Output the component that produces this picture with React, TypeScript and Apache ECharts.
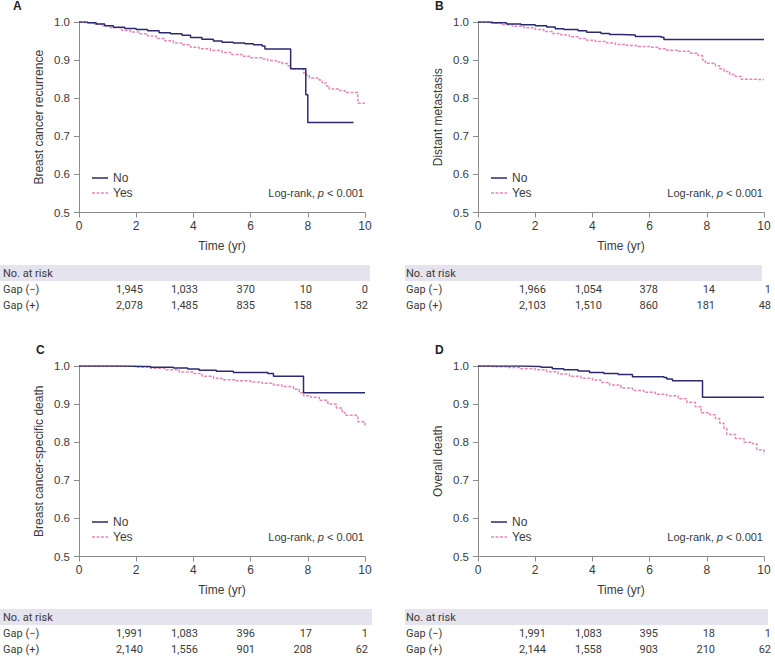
import React, { useEffect, useRef } from "react";
import * as echarts from "echarts";

// ---- Data ----
const panelLetters = ["A", "B", "C", "D"];
const yTitles = ["Breast cancer recurrence", "Distant metastasis", "Breast cancer-specific death", "Overall death"];
const groupNames = ["No", "Yes"];
const rowLabels = ["Gap (\u2212)", "Gap (+)"];

const aNo = [[0,1],[0.3,0.998],[0.6,0.995],[0.9,0.99],[1.2,0.986],[1.6,0.983],[2,0.98],[2.4,0.977],[2.8,0.972],[3.2,0.969],[3.6,0.965],[3.9,0.959],[4.3,0.955],[4.7,0.95],[5.0,0.947],[5.4,0.945],[5.8,0.943],[6.1,0.94],[6.4,0.937],[6.5,0.929],[7.4,0.877],[7.93,0.809],[8.0,0.736],[9.6,0.736]];
const aYes = [[0,1],[0.2,0.998],[0.5,0.994],[0.8,0.99],[1.1,0.985],[1.5,0.978],[1.8,0.974],[2.1,0.969],[2.4,0.963],[2.7,0.957],[3.0,0.951],[3.3,0.945],[3.6,0.94],[3.9,0.934],[4.2,0.93],[4.6,0.925],[5.0,0.92],[5.3,0.915],[5.7,0.91],[6.0,0.906],[6.4,0.903],[6.6,0.899],[6.9,0.895],[7.1,0.891],[7.3,0.885],[7.4,0.877],[7.85,0.866],[7.95,0.86],[8.05,0.853],[8.4,0.848],[8.5,0.84],[8.65,0.832],[8.75,0.824],[9.1,0.82],[9.3,0.815],[9.75,0.787],[10,0.787]];
const bNo = [[0,1],[0.5,0.998],[1,0.995],[1.5,0.993],[2,0.99],[2.4,0.987],[2.7,0.982],[3,0.98],[3.5,0.977],[3.8,0.973],[4.3,0.97],[4.6,0.967],[5.0,0.966],[5.5,0.962],[6.4,0.96],[6.5,0.954],[10,0.954]];
const bYes = [[0,1],[0.4,0.997],[0.8,0.993],[1.2,0.989],[1.6,0.985],[2,0.98],[2.3,0.975],[2.6,0.97],[2.9,0.966],[3.2,0.961],[3.5,0.957],[3.8,0.952],[4.1,0.949],[4.5,0.945],[4.8,0.941],[5.2,0.938],[5.6,0.936],[6.0,0.934],[6.3,0.93],[6.6,0.926],[7.0,0.923],[7.4,0.918],[7.7,0.912],[7.85,0.9],[7.95,0.892],[8.3,0.885],[8.45,0.877],[8.6,0.87],[8.8,0.862],[9.0,0.857],[9.2,0.85],[9.4,0.849],[10,0.849]];
const cNo = [[0,1],[1.5,0.999],[2.5,0.997],[3.3,0.995],[3.8,0.992],[4.2,0.989],[4.8,0.986],[5.4,0.983],[6.6,0.98],[6.8,0.973],[7.85,0.93],[10,0.93]];
const cYes = [[0,1],[1,0.999],[2,0.997],[2.5,0.994],[3,0.99],[3.5,0.984],[4.0,0.98],[4.3,0.973],[4.7,0.968],[5.0,0.964],[5.5,0.961],[6.0,0.958],[6.4,0.955],[6.8,0.95],[7.1,0.946],[7.5,0.939],[7.7,0.93],[7.85,0.922],[8.1,0.918],[8.4,0.91],[8.7,0.9],[9.0,0.89],[9.2,0.878],[9.3,0.871],[9.7,0.866],[9.75,0.854],[10,0.85],[10,0.841]];
const dNo = [[0,1],[1.5,0.999],[2.2,0.997],[2.6,0.993],[3.0,0.99],[3.5,0.987],[3.9,0.983],[4.4,0.98],[4.9,0.978],[5.4,0.972],[6.5,0.97],[6.6,0.966],[6.8,0.961],[7.85,0.918],[10,0.918]];
const dYes = [[0,1],[0.5,0.998],[1,0.996],[1.5,0.993],[2,0.99],[2.4,0.985],[2.8,0.979],[3.2,0.973],[3.6,0.968],[4.0,0.963],[4.3,0.957],[4.6,0.95],[5.0,0.942],[5.4,0.936],[5.8,0.931],[6.2,0.926],[6.6,0.922],[7.0,0.914],[7.3,0.905],[7.6,0.893],[7.8,0.877],[8.1,0.872],[8.3,0.862],[8.45,0.85],[8.6,0.836],[8.7,0.82],[9.0,0.81],[9.3,0.8],[9.6,0.796],[9.75,0.78],[10,0.778],[10,0.769]];

const aRiskMinus = [1945, 1033, 370, 10, 0];
const aRiskPlus = [2078, 1485, 835, 158, 32];
const bRiskMinus = [1966, 1054, 378, 14, 1];
const bRiskPlus = [2103, 1510, 860, 181, 48];
const cRiskMinus = [1991, 1083, 396, 17, 1];
const cRiskPlus = [2140, 1556, 901, 208, 62];
const dRiskMinus = [1991, 1083, 395, 18, 1];
const dRiskPlus = [2144, 1558, 903, 210, 62];

const curves = [[aNo, aYes], [bNo, bYes], [cNo, cYes], [dNo, dYes]];
const risks = [[aRiskMinus, aRiskPlus], [bRiskMinus, bRiskPlus], [cRiskMinus, cRiskPlus], [dRiskMinus, dRiskPlus]];

// ---- Layout ----
const NAVY = "#2b2a70";
const PINK = "#e58ab8";
const AXIS = "#8c8c8c";
const TXT = "#3a3a3a";
const FONT = "'Liberation Sans', Arial, sans-serif";
const TFONT = "Roboto, 'Noto Sans', sans-serif";

const panels = [
  { dx: 0, dy: 0, letterX: 13, bandL: 0, bandR: 370, labX: 3, numR: [143, 198, 255, 312, 368] },
  { dx: 399, dy: 0, letterX: 435, bandL: 405, bandR: 762, labX: 406, numR: [546, 602, 658, 715, 771] },
  { dx: 0, dy: 344, letterX: 36, bandL: 0, bandR: 372, labX: 3, numR: [143, 198, 255, 312, 368] },
  { dx: 399, dy: 344, letterX: 435, bandL: 405, bandR: 768, labX: 406, numR: [546, 602, 658, 715, 771] },
];

export default function App() {
  const ref = useRef<HTMLDivElement>(null);
  useEffect(() => {
    document.body.style.margin = "0";
    const chart = echarts.init(ref.current!, null, { renderer: "svg" });
    const grid: any[] = [];
    const xAxis: any[] = [];
    const yAxis: any[] = [];
    const series: any[] = [];
    const graphic: any[] = [];
    panels.forEach((p, i) => {
      grid.push({ left: 79 + p.dx, top: 22 + p.dy, width: 286, height: 190.5 });
      xAxis.push({
        gridIndex: i, type: "value", min: 0, max: 10, interval: 2,
        axisLine: { lineStyle: { color: AXIS, width: 1 } },
        axisTick: { length: 5, lineStyle: { color: AXIS } },
        axisLabel: { color: TXT, fontSize: 12, fontFamily: FONT, margin: 7 },
        splitLine: { show: false },
        name: "Time (yr)", nameLocation: "middle", nameGap: 27,
        nameTextStyle: { color: TXT, fontSize: 12, fontFamily: FONT },
      });
      yAxis.push({
        gridIndex: i, type: "value", min: 0.5, max: 1.0, interval: 0.1,
        axisLine: { show: true, lineStyle: { color: AXIS, width: 1 } },
        axisTick: { show: true, length: 5, lineStyle: { color: AXIS } },
        axisLabel: { color: TXT, fontSize: 11.5, fontFamily: FONT, margin: 9, formatter: (v: number) => v.toFixed(1) },
        splitLine: { show: false },
        name: yTitles[i], nameLocation: "middle", nameGap: 34,
        nameTextStyle: { color: TXT, fontSize: 12, fontFamily: FONT },
      });
      series.push({
        type: "line", name: groupNames[0], xAxisIndex: i, yAxisIndex: i, data: curves[i][0],
        step: "end", showSymbol: false, symbol: "none", lineStyle: { color: NAVY, width: 1.5 }, z: 3,
      });
      series.push({
        type: "line", name: groupNames[1], xAxisIndex: i, yAxisIndex: i, data: curves[i][1],
        step: "end", showSymbol: false, symbol: "none", lineStyle: { color: PINK, width: 1.5, type: [3, 1.5] }, z: 2,
      });
      graphic.push({ type: "text", left: p.letterX, top: p.dy, style: { text: panelLetters[i], font: `bold 12px ${FONT}`, fill: "#222" } });
      graphic.push({ type: "line", shape: { x1: 92 + p.dx, y1: 178 + p.dy, x2: 108 + p.dx, y2: 178 + p.dy }, style: { stroke: NAVY, lineWidth: 1.5 } });
      graphic.push({ type: "line", shape: { x1: 92 + p.dx, y1: 193 + p.dy, x2: 108 + p.dx, y2: 193 + p.dy }, style: { stroke: PINK, lineWidth: 1.5, lineDash: [3, 1.5] } });
      graphic.push({ type: "text", x: 113 + p.dx, y: 178 + p.dy, style: { text: groupNames[0], font: `12px ${FONT}`, fill: TXT, verticalAlign: "middle" } });
      graphic.push({ type: "text", x: 113 + p.dx, y: 193 + p.dy, style: { text: groupNames[1], font: `12px ${FONT}`, fill: TXT, verticalAlign: "middle" } });
      graphic.push({
        type: "text", x: 364 + p.dx, y: 193 + p.dy,
        style: {
          text: "Log-rank, {i|p} < 0.001", font: `11px ${FONT}`, fill: TXT, align: "right", verticalAlign: "middle",
          rich: { i: { fontStyle: "italic", fontSize: 11, fontFamily: FONT, fill: TXT } },
        },
      });
      graphic.push({ type: "rect", shape: { x: p.bandL, y: 265 + p.dy, width: p.bandR - p.bandL, height: 16 }, style: { fill: "#e4e3ee" } });
      graphic.push({ type: "text", x: p.labX, y: 273 + p.dy, style: { text: "No. at risk", font: `11px ${TFONT}`, fill: TXT, verticalAlign: "middle" } });
      [0, 1].forEach((r) => {
        const yy = 289.5 + r * 16 + p.dy;
        graphic.push({ type: "text", x: p.labX, y: yy, style: { text: rowLabels[r], font: `11px ${TFONT}`, fill: TXT, verticalAlign: "middle" } });
        risks[i][r].forEach((v, k) => {
          graphic.push({ type: "text", x: p.numR[k], y: yy, style: { text: v.toLocaleString("en-US"), font: `11px ${TFONT}`, fill: TXT, align: "right", verticalAlign: "middle" } });
        });
      });
    });
    chart.setOption({ animation: false, backgroundColor: "#fff", grid, xAxis, yAxis, series, graphic });
    return () => chart.dispose();
  }, []);
  return <div ref={ref} style={{ width: 775, height: 657 }} />;
}
